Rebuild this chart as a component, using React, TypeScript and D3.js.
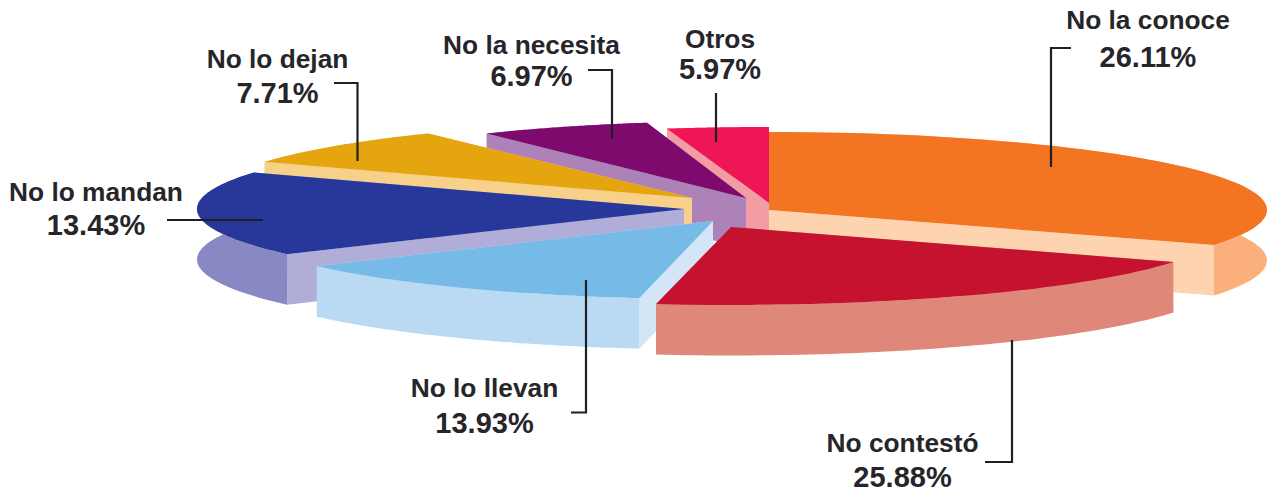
import React from "react";
import * as d3 from "d3";

const categories = ["No la conoce", "No contestó", "No lo llevan", "No lo mandan", "No lo dejan", "No la necesita", "Otros"];
const shares = [26.11, 25.88, 13.93, 13.43, 7.71, 6.97, 5.97];
const shareLabels = ["26.11%", "25.88%", "13.93%", "13.43%", "7.71%", "6.97%", "5.97%"];

// Foreshortening of the drawing: cumulative share -> angle on the ellipse
const cumulative = [0, ...d3.cumsum(shares)];
const drawnAngle = d3.scaleLinear().domain(cumulative).range([0, 116.7, 188.7, 234.6, 298, 327, 348, 360]);

type Layout = { ax: number; ay: number; rx: number; ry: number; top: string; wall: string; face: string };
const DEPTH = 50.5;
const layouts: Layout[] = [
  { ax: 769, ay: 210, rx: 498, ry: 78, top: "#F47521", wall: "#FBB07C", face: "#FDD3B0" },
  { ax: 731, ay: 227, rx: 495, ry: 78, top: "#C4122F", wall: "#DF8779", face: "#DF8779" },
  { ax: 713, ay: 221, rx: 486, ry: 78, top: "#76BAE8", wall: "#BAD9F2", face: "#D3E6F7" },
  { ax: 684, ay: 209, rx: 487, ry: 78, top: "#28389A", wall: "#8A88C4", face: "#B0ADD9" },
  { ax: 692, ay: 198, rx: 484, ry: 77, top: "#E5A50F", wall: "#F7D08A", face: "#F7D08A" },
  { ax: 746, ay: 198, rx: 476, ry: 77, top: "#7F0A6E", wall: "#AD82B8", face: "#AD82B8" },
  { ax: 769, ay: 203, rx: 490, ry: 76, top: "#EF1656", wall: "#F49CA4", face: "#F49CA4" },
];
const paintOrder = [6, 5, 4, 0, 3, 2, 1];

type Lbl = { x: number; y1: number; y2: number; leader: [number, number][] };
const labels: Lbl[] = [
  { x: 1148, y1: 29, y2: 66.7, leader: [[1051, 167], [1051, 48], [1071, 48]] },
  { x: 902.5, y1: 452.3, y2: 486.8, leader: [[1012, 340], [1012, 462], [985, 462]] },
  { x: 484.5, y1: 396.7, y2: 433, leader: [[586, 280], [586, 412.5], [571, 412.5]] },
  { x: 96, y1: 200.7, y2: 235, leader: [[167, 220], [263, 220]] },
  { x: 277.5, y1: 68.3, y2: 102.5, leader: [[357.5, 161], [357.5, 83], [334, 83]] },
  { x: 531.5, y1: 54.3, y2: 86, leader: [[612, 139], [612, 70], [588, 70]] },
  { x: 720, y1: 47.7, y2: 79.3, leader: [[716, 142], [716, 93]] },
];

const rad = (d: number) => (d * Math.PI) / 180;
const line = d3.line();

function arcPoints(l: Layout, i: number): [number, number][] {
  const t0 = drawnAngle(cumulative[i]);
  const t1 = drawnAngle(cumulative[i + 1]);
  return d3.range(0, 61).map((k) => {
    const t = rad(t0 + ((t1 - t0) * k) / 60);
    return [l.ax + l.rx * Math.sin(t), l.ay - l.ry * Math.cos(t)] as [number, number];
  });
}

function Slice({ i }: { i: number }) {
  const l = layouts[i];
  const arc = arcPoints(l, i);
  const first = arc[0];
  const last = arc[arc.length - 1];
  const face = (p: [number, number]) =>
    line([[l.ax, l.ay], p, [p[0], p[1] + DEPTH], [l.ax, l.ay + DEPTH]]) + "Z";
  const wall = line([...arc, ...arc.slice().reverse().map((p) => [p[0], p[1] + DEPTH] as [number, number])]) + "Z";
  const top = line([[l.ax, l.ay], ...arc]) + "Z";
  return (
    <g>
      <path d={face(first)} fill={l.face} />
      <path d={face(last)} fill={l.face} />
      <path d={wall} fill={l.wall} />
      <path d={top} fill={l.top} />
    </g>
  );
}

export default function App() {
  return (
    <svg
      width={1268}
      height={493}
      viewBox="0 0 1268 493"
      style={{ position: "absolute", left: 0, top: 0, background: "#fff" }}
    >
      {paintOrder.map((i) => (
        <Slice key={i} i={i} />
      ))}
      {labels.map((b, i) => (
        <g key={categories[i]}>
          <path d={line(b.leader) ?? ""} fill="none" stroke="#1f1f26" strokeWidth={2.2} />
          <g fontFamily="'Liberation Sans', Arial, sans-serif" fontWeight={700} textAnchor="middle" fill="#26262a">
            <text x={b.x} y={b.y1} fontSize={26.3}>{categories[i]}</text>
            <text x={b.x} y={b.y2} fontSize={29}>{shareLabels[i]}</text>
          </g>
        </g>
      ))}
    </svg>
  );
}
